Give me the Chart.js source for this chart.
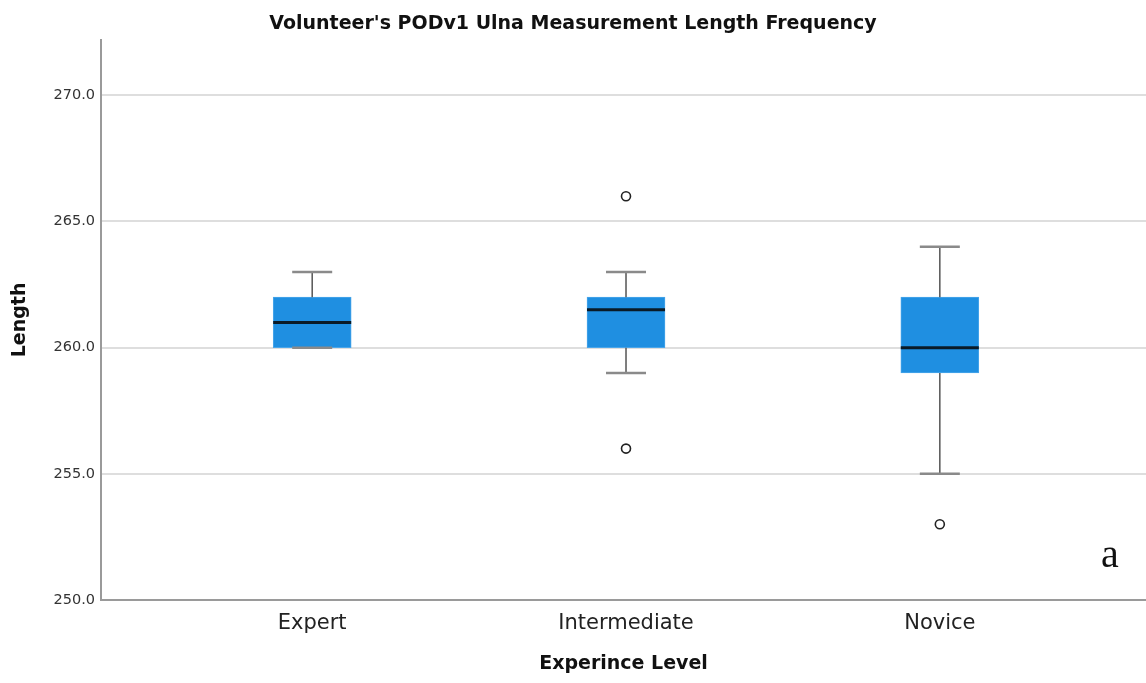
<!DOCTYPE html>
<html>
<head>
<meta charset="utf-8">
<script src="https://cdn.jsdelivr.net/npm/chart.js@4/dist/chart.umd.min.js"></script>
<style>
  html, body { margin: 0; padding: 0; background: #fff; overflow: hidden; }
  #wrap { width: 1146px; height: 683px; }
</style>
</head>
<body>
<div id="wrap"><canvas id="boxChart"></canvas></div>
<script>
// experience levels
const levels = ["Expert", "Intermediate", "Novice"];
// box stats per level
const q1Values = [260, 260, 259];
const q3Values = [262, 262, 262];
const medianValues = [261, 261.5, 260];
const whiskerLow = [260, 259, 255];
const whiskerHigh = [263, 263, 264];
// outliers: [level index (1-based), value]
const outlierLevel = [2, 2, 3];
const outlierValue = [266, 256, 253];
const yTicks = [250, 255, 260, 265, 270];

const boxData = levels.map((l, i) => ({ x: i + 1, y: [q1Values[i], q3Values[i]] }));
const outlierData = outlierValue.map((v, i) => ({ x: outlierLevel[i], y: v }));

// whiskers, caps and median lines, placed with the chart's own scales
const boxExtras = {
  id: 'boxExtras',
  afterDatasetsDraw(chart) {
    const ctx = chart.ctx;
    const xs = chart.scales.x, ys = chart.scales.y;
    ctx.save();
    levels.forEach((l, i) => {
      const cx = xs.getPixelForValue(i + 1);
      const half = 39, cap = 20;
      // stems
      ctx.strokeStyle = '#555';
      ctx.lineWidth = 1.5;
      ctx.beginPath();
      ctx.moveTo(cx, ys.getPixelForValue(q3Values[i]));
      ctx.lineTo(cx, ys.getPixelForValue(whiskerHigh[i]));
      ctx.moveTo(cx, ys.getPixelForValue(q1Values[i]));
      ctx.lineTo(cx, ys.getPixelForValue(whiskerLow[i]));
      ctx.stroke();
      // caps
      ctx.strokeStyle = '#8a8a8a';
      ctx.lineWidth = 2.5;
      ctx.beginPath();
      [whiskerHigh[i], whiskerLow[i]].forEach(v => {
        const py = ys.getPixelForValue(v);
        ctx.moveTo(cx - cap, py);
        ctx.lineTo(cx + cap, py);
      });
      ctx.stroke();
      // median
      ctx.strokeStyle = '#0a1a26';
      ctx.lineWidth = 3;
      ctx.beginPath();
      const my = ys.getPixelForValue(medianValues[i]);
      ctx.moveTo(cx - half, my);
      ctx.lineTo(cx + half, my);
      ctx.stroke();
    });
    // panel letter
    const a = chart.chartArea;
    ctx.fillStyle = '#111';
    ctx.font = '40px "Liberation Serif"';
    ctx.textAlign = 'center';
    ctx.textBaseline = 'alphabetic';
    ctx.fillText('a', a.right - 36, a.bottom - 33);
    ctx.restore();
  }
};

new Chart(document.getElementById('boxChart'), {
  type: 'bar',
  data: {
    datasets: [
      {
        type: 'bar',
        data: boxData,
        backgroundColor: '#1f8fe1',
        borderColor: '#4aa6ea',
        borderWidth: 1,
        borderSkipped: false,
        barThickness: 78,
        order: 2
      },
      {
        type: 'scatter',
        data: outlierData,
        pointRadius: 4.5,
        pointBorderWidth: 1.6,
        pointBorderColor: '#222',
        pointBackgroundColor: '#fff',
        order: 1
      }
    ]
  },
  options: {
    responsive: true,
    maintainAspectRatio: false,
    animation: false,
    layout: { autoPadding: false, padding: 0 },
    plugins: {
      legend: { display: false },
      tooltip: { enabled: false },
      title: {
        display: true,
        text: "Volunteer's PODv1 Ulna Measurement Length Frequency",
        color: '#111',
        font: { family: 'DejaVu Sans', size: 19, weight: 'bold' },
        padding: { top: 13, bottom: 4 }
      }
    },
    scales: {
      x: {
        type: 'linear',
        offset: false,
        bounds: 'ticks',
        min: 0.327,
        max: 3.657,
        afterBuildTicks: (s) => { s.ticks = levels.map((l, i) => ({ value: i + 1 })); },
        afterFit: (s) => { s.height = 83; s.paddingLeft = 0; s.paddingRight = 0; },
        ticks: {
          callback: (v) => levels[v - 1],
          color: '#222',
          font: { family: 'DejaVu Sans', size: 21 },
          padding: 11,
          maxRotation: 0
        },
        grid: { display: false, drawTicks: false },
        border: { display: true, color: '#9a9a9a', width: 2 },
        title: {
          display: true,
          text: 'Experince Level',
          color: '#111',
          font: { family: 'DejaVu Sans', size: 19, weight: 'bold' },
          padding: { top: 4, bottom: 8 }
        }
      },
      y: {
        min: 250,
        max: 272.2,
        afterBuildTicks: (s) => { s.ticks = yTicks.map(v => ({ value: v })); },
        afterFit: (s) => { s.width = 101; },
        ticks: {
          callback: (v) => v.toFixed(1),
          color: '#333',
          font: { family: 'DejaVu Sans', size: 14.5 },
          padding: 6
        },
        grid: { color: '#dedede', lineWidth: 2, drawTicks: false },
        border: { display: true, color: '#9a9a9a', width: 2 },
        title: {
          display: true,
          text: 'Length',
          color: '#111',
          font: { family: 'DejaVu Sans', size: 19, weight: 'bold' },
          padding: { top: 9, bottom: 4 }
        }
      }
    }
  },
  plugins: [boxExtras]
});
</script>
</body>
</html>
